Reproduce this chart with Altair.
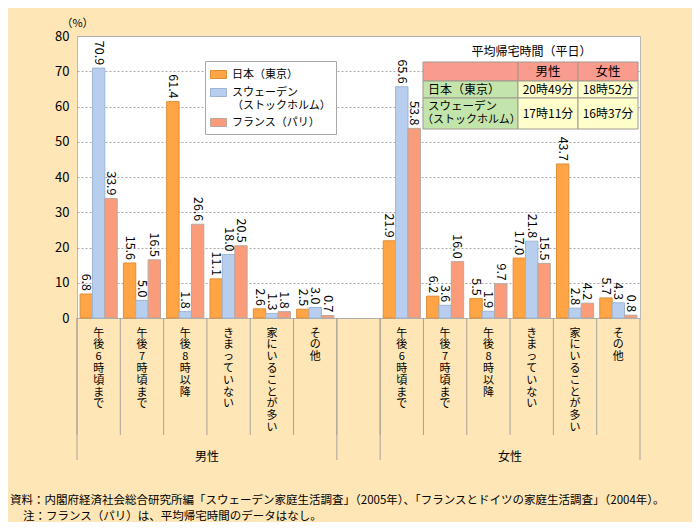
import altair as alt
import pandas as pd

# ---------------- data ----------------
series = ["日本（東京）", "スウェーデン（ストックホルム）", "フランス（パリ）"]
categories = ["午後6時頃まで", "午後7時頃まで", "午後8時以降", "きまっていない", "家にいることが多い", "その他"]
genders = ["男性", "女性"]
male_japan = [6.8, 15.6, 61.4, 11.1, 2.6, 2.5]
male_sweden = [70.9, 5.0, 1.8, 18.0, 1.3, 3.0]
male_france = [33.9, 16.5, 26.6, 20.5, 1.8, 0.7]
female_japan = [21.9, 6.2, 5.5, 17.0, 43.7, 5.7]
female_sweden = [65.6, 3.6, 1.9, 21.8, 2.8, 4.3]
female_france = [53.8, 16.0, 9.7, 15.5, 4.2, 0.8]
y_ticks = [0, 10, 20, 30, 40, 50, 60, 70, 80]
y_unit = "（%）"

table_title = "平均帰宅時間（平日）"
table_cols = ["男性", "女性"]
table_rows = ["日本（東京）", "スウェーデン（ストックホルム）"]
table_male = ["20時49分", "17時11分"]
table_female = ["18時52分", "16時37分"]

source_note = "資料：内閣府経済社会総合研究所編「スウェーデン家庭生活調査」（2005年）、「フランスとドイツの家庭生活調査」（2004年）。"
note = "注：フランス（パリ）は、平均帰宅時間のデータはなし。"

# ---------------- styling ----------------
FONT = "Noto Sans CJK JP"
BG = "#FEE6B6"
fills = ["#FFA545", "#B8CEEE", "#FA9C7A"]
strokes = ["#E08E36", "#9DB5D4", "#B8A8A0"]
W, H = 563, 282

# ---------------- tables for the library ----------------
slots_m = [f"男性|{c}" for c in categories]
slots_f = [f"女性|{c}" for c in categories]
slots = slots_m + ["gap"] + slots_f

vals = {
    ("男性", series[0]): male_japan, ("男性", series[1]): male_sweden, ("男性", series[2]): male_france,
    ("女性", series[0]): female_japan, ("女性", series[1]): female_sweden, ("女性", series[2]): female_france,
}
rows = []
for g in genders:
    for s in series:
        for c, v in zip(categories, vals[(g, s)]):
            rows.append({"slot": f"{g}|{c}", "series": s, "value": v})
df = pd.DataFrame(rows)

x_scale = alt.Scale(domain=slots, paddingInner=0, paddingOuter=0)
xo_scale = alt.Scale(domain=series, paddingInner=0, paddingOuter=0.25)
y_scale = alt.Scale(domain=[0, 80], nice=False)

label_expr = ("indexof(datum.label, '|') >= 0 ? "
              "split(substring(datum.label, indexof(datum.label, '|') + 1), '') : ''")

legend_expr = ("datum.label == 'スウェーデン（ストックホルム）' ? "
               "['スウェーデン', '（ストックホルム）'] : datum.label")

x_axis = alt.Axis(title=None, labelExpr=label_expr, labelAngle=0, labelAlign="center",
                  labelBaseline="top", ticks=False, domain=False, labelPadding=9,
                  labelFontSize=11, labelLineHeight=11.8, labelOverlap=False,
                  labelColor="#000", labelFont=FONT, labelLimit=0)
y_axis = alt.Axis(values=y_ticks, title=y_unit, titleAngle=0, titleX=0, titleY=-13,
                  titleAlign="center", titleBaseline="middle", titleFontWeight="normal",
                  titleFontSize=11, titleFont=FONT, titleColor="#000",
                  grid=True, gridDash=[2, 2], gridColor="#A8A8A8", ticks=False,
                  domain=False, labelPadding=8, labelFontSize=13, labelFont=FONT,
                  labelColor="#000", labelOverlap=False, labelFlush=False)


def xenc(bp=None):
    if bp is None:
        return alt.X("slot:N", scale=x_scale, sort=slots, axis=x_axis)
    return alt.X("slot:N", scale=x_scale, sort=slots, axis=x_axis, bandPosition=bp)


y_enc = alt.Y("value:Q", scale=y_scale, axis=y_axis)
xo_enc = alt.XOffset("series:N", scale=xo_scale, sort=series)

bars = alt.Chart(df).mark_bar(strokeWidth=1).encode(
    x=xenc(), xOffset=xo_enc, y=y_enc,
    fill=alt.Fill("series:N", sort=series, scale=alt.Scale(domain=series, range=fills),
                  legend=alt.Legend(title=None, orient="none", legendX=128, legendY=25,
                                    fillColor="#FFFFFF", strokeColor="#A8A8A8", padding=5,
                                    symbolType="M-1,-0.5H1V0.5H-1Z", symbolSize=256,
                                    symbolStrokeColor="#A0A0A0", symbolStrokeWidth=1,
                                    labelExpr=legend_expr, labelFont=FONT, labelFontSize=11,
                                    labelColor="#000", rowPadding=3, labelOffset=5,
                                    labelLimit=0)),
    stroke=alt.Stroke("series:N", sort=series, scale=alt.Scale(domain=series, range=strokes),
                      legend=None),
)

labels = alt.Chart(df).mark_text(angle=90, align="right", baseline="middle", dx=-3,
                                 fontSize=12.5, font=FONT, color="#000").encode(
    x=xenc(), xOffset=xo_enc, y=y_enc,
    text=alt.Text("value:Q", format=".1f"),
)

RULE_C = "#A8A49A"
short_rules = alt.Chart(pd.DataFrame({"slot": slots})).mark_rule(color=RULE_C, strokeWidth=1).encode(
    x=xenc(0), y=alt.value(H), y2=alt.value(H + 117),
)
long_a = alt.Chart(pd.DataFrame({"slot": [slots_m[0], "gap"]})).mark_rule(color=RULE_C, strokeWidth=1).encode(
    x=xenc(0), y=alt.value(H), y2=alt.value(H + 142),
)
long_b = alt.Chart(pd.DataFrame({"slot": ["gap", slots_f[-1]]})).mark_rule(color=RULE_C, strokeWidth=1).encode(
    x=xenc(1), y=alt.value(H), y2=alt.value(H + 142),
)
group_labels = alt.Chart(pd.DataFrame({"slot": [slots_m[3], slots_f[3]], "g": genders})).mark_text(
    fontSize=12, font=FONT, color="#000", baseline="middle").encode(
    x=xenc(0), y=alt.value(H + 139), text="g:N",
)

# ---------------- table annotation ----------------
one = pd.DataFrame({"k": [0]})
tx = [346, 441, 501, 561]
ty = [26, 45, 62, 93]
HEAD, GREEN, CELL = "#F99B8D", "#C3E5AB", "#FFFFCC"
cell_fill = [[HEAD, HEAD, HEAD], [GREEN, CELL, CELL], [GREEN, CELL, CELL]]
table_layers = []
for r in range(3):
    for c in range(3):
        table_layers.append(alt.Chart(one).mark_rect(fill=cell_fill[r][c], stroke="#A09890",
                                                     strokeWidth=1).encode(
            x=alt.value(tx[c]), x2=alt.value(tx[c + 1]), y=alt.value(ty[r]), y2=alt.value(ty[r + 1])))


def txt(t, x, y, align="center", size=12):
    return alt.Chart(one).mark_text(text=t, align=align, baseline="middle", fontSize=size,
                                    font=FONT, color="#000").encode(x=alt.value(x), y=alt.value(y))


table_layers.append(txt(table_title, (tx[0] + tx[3]) / 2 + 1, 16, size=12))
for c in range(2):
    table_layers.append(txt(table_cols[c], (tx[c + 1] + tx[c + 2]) / 2, (ty[0] + ty[1]) / 2, size=12.5))
table_layers.append(txt(table_rows[0], tx[0] + 5, (ty[1] + ty[2]) / 2, align="left", size=12))
row2_lines = ["スウェーデン", "（ストックホルム）"]
table_layers.append(txt(row2_lines[0], tx[0] + 5, (ty[2] + ty[3]) / 2 - 6.5, align="left", size=11.5))
table_layers.append(txt(row2_lines[1], tx[0] - 1, (ty[2] + ty[3]) / 2 + 6.5, align="left", size=11))
for r in range(2):
    yy = (ty[r + 1] + ty[r + 2]) / 2
    table_layers.append(txt(table_male[r], (tx[1] + tx[2]) / 2, yy, size=12))
    table_layers.append(txt(table_female[r], (tx[2] + tx[3]) / 2, yy, size=12))

notes = [txt(source_note, -67, 465, align="left", size=11.5),
         txt(note, -54, 481, align="left", size=11.5)]

chart = alt.layer(bars, labels, short_rules, long_a, long_b, group_labels,
                  *table_layers, *notes).properties(
    width=W, height=H, background=BG,
    padding={"left": 69, "top": 28, "right": 52, "bottom": 204},
    autosize=alt.AutoSizeParams(type="none"),
).configure_view(stroke="#B8B8B8", strokeWidth=1, fill="#FFFFFF")

chart.save("out.html", embed_options={"renderer": "svg", "actions": False})
